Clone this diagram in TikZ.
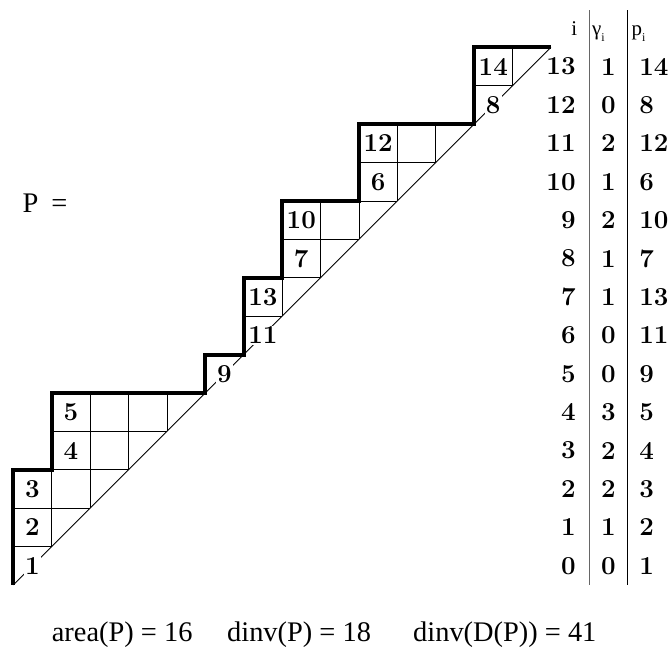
\documentclass[tikz,border=0pt]{standalone}
\usepackage{fontspec}
\newfontfamily\textserif{Liberation Serif}
\begin{document}
\begin{tikzpicture}[x=38.4bp,y=38.4bp,
  gridline/.style={line width=0.75bp},
  rule/.style={line width=0.8bp},
  latticepath/.style={line width=4bp, line join=miter},
  celllabel/.style={fill=white, inner sep=1.2bp, font=\bfseries\fontsize{26}{26}\selectfont},
  tabentry/.style={inner sep=0pt, font=\bfseries\fontsize{26}{26}\selectfont},
  headtext/.style={inner sep=0pt, anchor=base west, font=\textserif\fontsize{21}{21}\selectfont},
  caption/.style={inner sep=0pt, anchor=base west, font=\textserif\fontsize{28.5}{30}\selectfont}]
\useasboundingbox (-0.346,-1.615) rectangle (17.154,15.234);

% corners of the parking-function path
\coordinate (start) at (0,0);
\coordinate (finish) at (14,14);

% cells between the path and the diagonal
\begin{scope}
  \clip (0,0) -- (0,3) -- (1,3) -- (1,5) -- (5,5) -- (5,6) -- (6,6) -- (6,8)
        -- (7,8) -- (7,10) -- (9,10) -- (9,12) -- (12,12) -- (12,14) -- (14,14) -- cycle;
  \draw[gridline, step=1] (0,0) grid (14,14);
\end{scope}

% main diagonal
\draw[gridline] (start) -- (finish);

% car labels p_i in row i, column i - gamma_i
\foreach \row/\col/\pv in {0/0/1, 1/0/2, 2/0/3, 3/1/4, 4/1/5, 5/5/9, 6/6/11,
    7/6/13, 8/7/7, 9/7/10, 10/9/6, 11/9/12, 12/12/8, 13/12/14}
  \node[celllabel] (car\pv) at (\col+0.5,\row+0.5) {\pv};

% the lattice path
\draw[latticepath] (start) -- (0,3) -- (1,3) -- (1,5) -- (5,5) -- (5,6) -- (6,6) -- (6,8)
      -- (7,8) -- (7,10) -- (9,10) -- (9,12) -- (12,12) -- (12,14) -- (finish);

% table of i, gamma_i, p_i
\node[headtext, anchor=base east] (hi) at (14.69,14.30) {i};
\node[headtext] (hg) at (15.07,14.30) {γ\raisebox{-5.5bp}{\fontsize{12}{12}\selectfont i}};
\node[headtext] (hp) at (16.1,14.30) {p\raisebox{-5.5bp}{\fontsize{12}{12}\selectfont i}};
\draw[rule, black!60] (15,0) -- (15,14.97);
\draw[rule] (16,0) -- (16,14.97);
\foreach \row/\gv/\pv in {0/0/1, 1/1/2, 2/2/3, 3/2/4, 4/3/5, 5/0/9, 6/0/11,
    7/1/13, 8/1/7, 9/2/10, 10/1/6, 11/2/12, 12/0/8, 13/1/14} {
  \node[tabentry, anchor=east] (i\row) at (14.65,\row+0.5) {\row};
  \node[tabentry] (g\row) at (15.5,\row+0.5) {\gv};
  \node[tabentry, anchor=west] (p\row) at (16.3,\row+0.5) {\pv};
}

% name of the path
\node[caption] (pname) at (0.24,9.71) {P\kern13bp=};

% statistics
\node[caption] (area) at (1.0,-1.484) {area(P) = 16};
\node[caption] (dinv) at (5.565,-1.484) {dinv(P) = 18};
\node[caption] (dinvd) at (10.41,-1.484) {dinv(D(P)) = 41};
\end{tikzpicture}
\end{document}
